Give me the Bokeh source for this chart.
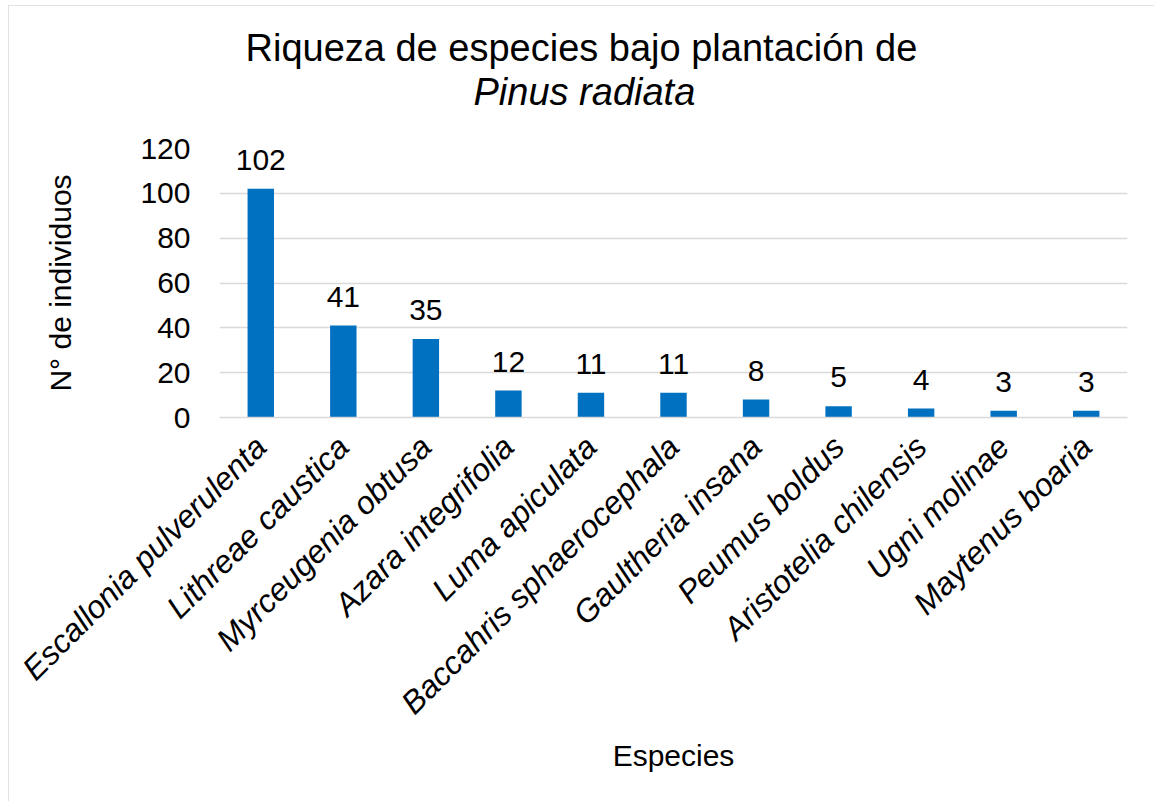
import math
from bokeh.plotting import figure
from bokeh.models import (ColumnDataSource, Range1d, FactorRange, SingleIntervalTicker,
                          FixedTicker, LinearAxis, Title)
from bokeh.core.properties import value
from bokeh.embed import file_html
from bokeh.resources import INLINE

species = ["Escallonia pulverulenta", "Lithreae caustica", "Myrceugenia obtusa",
           "Azara integrifolia", "Luma apiculata", "Baccahris sphaerocephala",
           "Gaultheria insana", "Peumus boldus", "Aristotelia chilensis",
           "Ugni molinae", "Maytenus boaria"]
counts = [102, 41, 35, 12, 11, 11, 8, 5, 4, 3, 3]
title_line1 = "Riqueza de especies bajo plantación de"
title_line2 = "Pinus radiata"
y_title = "N° de individuos"
x_title = "Especies"

FONT = "Liberation Sans"
BLUE = "#0070C0"
GRID = "#D9D9D9"

src = ColumnDataSource(dict(species=species, counts=counts,
                            labels=[str(c) for c in counts]))

p = figure(width=1146, height=798, x_range=FactorRange(*species, range_padding=0),
           y_range=Range1d(0, 120), output_backend="svg", toolbar_location=None,
           min_border_left=211, min_border_right=27, min_border_top=143,
           min_border_bottom=386)
p.outline_line_color = None
p.background_fill_color = "white"
p.border_fill_color = "white"
p.styles = {"margin-left": "8px", "margin-top": "5px",
            "outline": "2px solid #D9D9D9", "outline-offset": "-2px",
            "clip-path": "inset(0px 0px 2px 0px)"}

p.vbar(x="species", top="counts", width=0.32, source=src, fill_color=BLUE, line_color=None)
p.text(x="species", y="counts", text="labels", source=src, y_offset=-29,
       text_align="center", text_baseline="alphabetic",
       text_font=value(FONT), text_font_size="30px", text_color="#000000")

# grid
p.xgrid.grid_line_color = None
p.ygrid.grid_line_color = GRID
p.ygrid.grid_line_width = 1.5

# y axis
p.yaxis.ticker = SingleIntervalTicker(interval=20)
p.yaxis.axis_line_color = None
p.yaxis.major_tick_line_color = None
p.yaxis.minor_tick_line_color = None
p.yaxis.major_label_text_font = FONT
p.yaxis.major_label_text_font_size = "30px"
p.yaxis.major_label_text_color = "#000000"
p.yaxis.major_label_standoff = 23
p.yaxis.axis_label = y_title
p.yaxis.axis_label_text_font = FONT
p.yaxis.axis_label_text_font_size = "30px"
p.yaxis.axis_label_text_font_style = "normal"
p.yaxis.axis_label_text_color = "#000000"
p.yaxis.axis_label_standoff = 60

# x axis
p.xaxis.axis_line_color = GRID
p.xaxis.axis_line_width = 1.5
p.xaxis.major_tick_line_color = None
p.xaxis.minor_tick_line_color = None
p.xaxis.major_label_orientation = math.pi / 4
p.xaxis.major_label_text_font = FONT
p.xaxis.major_label_text_font_size = "32px"
p.xaxis.major_label_text_font_style = "italic"
p.xaxis.major_label_text_color = "#000000"
p.xaxis.major_label_standoff = 18
p.xaxis.axis_label = x_title
p.xaxis.axis_label_text_font = FONT
p.xaxis.axis_label_text_font_size = "30px"
p.xaxis.axis_label_text_font_style = "normal"
p.xaxis.axis_label_text_color = "#000000"
p.xaxis.axis_label_standoff = 2

# invisible spacer (an unlabeled, near-transparent axis) between plot area and title
spacer = LinearAxis(ticker=FixedTicker(ticks=[10.99]),
                    axis_line_color=None, major_tick_line_color="#ffffff",
                    major_tick_line_alpha=0.02, minor_tick_line_color=None,
                    major_tick_in=0, major_tick_out=36, minor_tick_in=0, minor_tick_out=0,
                    major_label_text_color=None, major_label_text_font_size="1px",
                    major_label_standoff=0)
p.add_layout(spacer, "above")

# title: two lines, the second in italics; left offsets centre them on the chart area
t2 = Title(text=title_line2, align="left", offset=254, standoff=0, vertical_align="bottom",
           text_font=FONT, text_font_size="38px", text_font_style="italic",
           text_color="#000000")
t1 = Title(text=title_line1, align="left", offset=26, standoff=0, vertical_align="bottom",
           text_font=FONT, text_font_size="38px", text_font_style="normal",
           text_color="#000000")
p.add_layout(t2, "above")
p.add_layout(t1, "above")

open("out.html", "w").write(file_html(p, INLINE))
